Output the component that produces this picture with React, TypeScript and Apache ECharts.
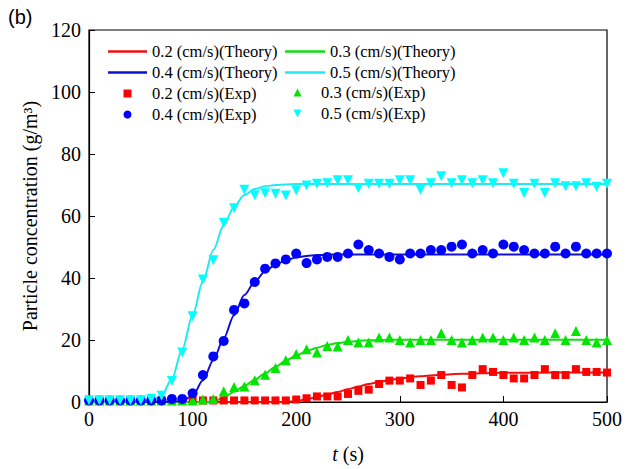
import React, { useEffect, useRef } from "react";
import * as echarts from "echarts";

// Time axis of the experimental points (s)
const T = [
  0, 10, 20, 30, 40, 50, 60, 70, 80, 90,
  100, 110, 120, 130, 140, 150, 160, 170, 180, 190,
  200, 210, 220, 230, 240, 250, 260, 270, 280, 290,
  300, 310, 320, 330, 340, 350, 360, 370, 380, 390,
  400, 410, 420, 430, 440, 450, 460, 470, 480, 490, 500,
];

// Experimental values (g/m^3)
const EXP_02 = [
  0.5, 0.5, 0.5, 0.5, 0.5, 0.5, 0.5, 0.5, 0.5, 0.5,
  0.5, 0.5, 0.5, 0.5, 0.5, 0.5, 0.5, 0.5, 0.5, 0.5,
  0.8, 1.2, 1.8, 1.8, 1.8, 2.6, 3.6, 4.0, 5.8, 6.9,
  6.9, 7.6, 5.5, 6.9, 8.7, 5.5, 4.7, 8.7, 10.6, 9.7,
  8.7, 7.6, 7.6, 8.7, 10.6, 8.7, 8.7, 10.6, 9.7, 9.7, 9.5,
];
const EXP_03 = [
  0.5, 0.5, 0.5, 0.5, 0.5, 0.5, 0.5, 0.5, 0.5, 0.5,
  0.5, 0.8, 1.0, 3.5, 4.8, 5.0, 7.0, 8.8, 11.0, 13.5,
  15.5, 17.0, 16.0, 18.1, 17.9, 20.0, 19.2, 19.2, 20.8, 20.8,
  20.0, 19.2, 20.0, 20.0, 22.2, 20.0, 19.2, 20.0, 20.8, 20.8,
  20.0, 20.8, 20.0, 20.8, 20.0, 22.2, 20.0, 22.9, 20.0, 19.2, 20.0,
];
const EXP_04 = [
  0.5, 0.5, 0.5, 0.5, 0.5, 0.5, 0.5, 0.5, 1.0, 1.0,
  2.8, 8.7, 14.7, 19.7, 29.7, 31.8, 38.7, 43.0, 44.7, 46.0,
  47.9, 44.8, 46.0, 46.8, 46.8, 47.9, 50.8, 49.0, 47.9, 46.8,
  46.0, 47.9, 47.9, 49.0, 49.0, 50.1, 50.8, 47.9, 49.0, 47.9,
  50.8, 50.1, 49.0, 47.9, 47.9, 50.1, 47.9, 50.1, 47.9, 47.9, 47.9,
];
const EXP_05 = [
  0.6, 0.6, 0.6, 0.6, 0.6, 0.6, 1.0, 2.0, 6.8, 16.0,
  27.7, 39.5, 45.7, 57.8, 62.5, 68.5, 66.7, 67.3, 67.2, 66.6,
  68.3, 69.8, 70.4, 70.6, 71.5, 71.5, 69.0, 70.4, 70.4, 70.4,
  71.5, 71.5, 68.5, 70.6, 72.8, 70.6, 71.5, 70.6, 71.5, 70.6,
  73.8, 70.4, 67.4, 70.4, 67.4, 70.6, 69.6, 69.6, 70.6, 69.4, 70.4,
];

// Theory curves
const TH_02_T = [0, 100, 190, 200, 210, 220, 230, 240, 250, 260, 270, 280, 290, 300, 320, 340, 360, 380, 400, 450, 500];
const TH_02 = [0, 0, 0, 0.3, 0.9, 1.6, 2.4, 3.2, 4.1, 5.0, 5.8, 6.5, 7.1, 7.6, 8.3, 8.8, 9.1, 9.3, 9.4, 9.5, 9.5];
const TH_03_T = [0, 60, 120, 130, 140, 150, 160, 170, 180, 190, 200, 210, 220, 230, 240, 250, 260, 270, 280, 300, 400, 500];
const TH_03 = [0, 0, 0, 1.5, 3.3, 5.2, 7.2, 9.3, 11.4, 13.3, 15.0, 16.4, 17.5, 18.4, 19.0, 19.4, 19.7, 19.9, 20.0, 20.1, 20.1, 20.1];
const TH_04_T = [0, 40, 80, 90, 100, 110, 120, 130, 140, 150, 160, 170, 180, 190, 200, 210, 220, 230, 240, 300, 400, 500];
const TH_04 = [0, 0, 0, 0.4, 2.0, 7.0, 13.5, 20.5, 28.0, 34.5, 38.8, 42.2, 44.3, 45.7, 46.6, 47.1, 47.4, 47.5, 47.6, 47.6, 47.6, 47.6];
const TH_05_T = [0, 30, 60, 70, 80, 90, 100, 110, 120, 130, 140, 150, 160, 170, 180, 190, 200, 250, 300, 400, 500];
const TH_05 = [0, 0, 0.3, 2.0, 7.5, 17.0, 28.0, 39.0, 49.0, 57.0, 63.0, 66.8, 68.7, 69.6, 70.0, 70.2, 70.3, 70.3, 70.3, 70.3, 70.3];

const NAMES_TH = ["0.2 (cm/s)(Theory)", "0.3 (cm/s)(Theory)", "0.4 (cm/s)(Theory)", "0.5 (cm/s)(Theory)"];
const NAMES_EXP = ["0.2 (cm/s)(Exp)", "0.3 (cm/s)(Exp)", "0.4 (cm/s)(Exp)", "0.5 (cm/s)(Exp)"];
const COLORS = ["#ff0000", "#00e600", "#0000ff", "#00ffff"];
const LINE_COLORS = ["#ee1111", "#11dd11", "#1111cc", "#22e8f0"];

const SERIF = "Liberation Serif";

export default function App() {
  const ref = useRef<HTMLDivElement>(null);
  useEffect(() => {
    if (!ref.current) return;
    const chart = echarts.init(ref.current, null, { renderer: "svg" });
    const thT = [TH_02_T, TH_03_T, TH_04_T, TH_05_T];
    const thV = [TH_02, TH_03, TH_04, TH_05];
    const expV = [EXP_02, EXP_03, EXP_04, EXP_05];
    const symbols = ["rect", "triangle", "circle", "triangle"];
    const sizes = [8, 10, 10, 10];
    const rotates = [0, 0, 0, 180];

    const series: any[] = [];
    for (let k = 0; k < 4; k++) {
      series.push({
        name: NAMES_TH[k],
        type: "line",
        data: thT[k].map((t, i) => [t, thV[k][i]]),
        symbol: "none",
        smooth: 0.3,
        smoothMonotone: "x",
        lineStyle: { color: LINE_COLORS[k], width: 2 },
        itemStyle: { color: LINE_COLORS[k] },
        z: 2,
      });
    }
    for (let k = 0; k < 4; k++) {
      series.push({
        name: NAMES_EXP[k],
        type: "line",
        data: T.map((t, i) => [t, expV[k][i]]),
        symbol: symbols[k],
        symbolSize: sizes[k],
        symbolRotate: rotates[k],
        showSymbol: true,
        lineStyle: { width: 0, opacity: 0 },
        itemStyle: { color: COLORS[k] },
        z: 3 + k,
      });
    }

    const thIcon = "path://M0,0H100V6H0Z";
    const legendCommon = {
      orient: "vertical",
      itemHeight: 10,
      itemGap: 4,
      textStyle: { fontFamily: SERIF, fontSize: 16.5, color: "#000" },
      selectedMode: false,
      padding: 0,
    };

    chart.setOption({
      animation: false,
      backgroundColor: "#fff",
      grid: {
        left: 89,
        right: 26,
        top: 30,
        bottom: 66,
        show: true,
        borderColor: "#000",
        borderWidth: 1.2,
      },
      legend: [
        {
          ...legendCommon,
          left: 108,
          top: 43,
          itemWidth: 39,
          data: [
            { name: NAMES_TH[0], icon: thIcon },
            { name: NAMES_TH[2], icon: thIcon },
            { name: NAMES_EXP[0] },
            { name: NAMES_EXP[2] },
          ],
        },
        {
          ...legendCommon,
          left: 285,
          top: 43,
          itemWidth: 40,
          data: [
            { name: NAMES_TH[1], icon: thIcon },
            { name: NAMES_TH[3], icon: thIcon },
          ],
        },
        {
          ...legendCommon,
          left: 279,
          top: 84,
          itemWidth: 37,
          data: [{ name: NAMES_EXP[1] }, { name: NAMES_EXP[3] }],
        },
      ],
      xAxis: {
        type: "value",
        min: 0,
        max: 500,
        interval: 100,
        name: "{i|t} (s)",
        nameLocation: "middle",
        nameGap: 42,
        nameTextStyle: {
          fontFamily: SERIF,
          fontSize: 20,
          color: "#000",
          rich: { i: { fontFamily: SERIF, fontSize: 20, fontStyle: "italic", color: "#000" } },
        },
        axisLine: { lineStyle: { color: "#000", width: 1.2 } },
        axisTick: { inside: true, length: 6, lineStyle: { color: "#000" } },
        axisLabel: { fontFamily: SERIF, fontSize: 20, color: "#000", margin: 7 },
        splitLine: { show: false },
      },
      yAxis: {
        type: "value",
        min: 0,
        max: 120,
        interval: 20,
        name: "Particle concentration (g/m³)",
        nameLocation: "middle",
        nameGap: 48,
        nameTextStyle: { fontFamily: SERIF, fontSize: 20, color: "#000" },
        axisLine: { show: true, lineStyle: { color: "#000", width: 1.2 } },
        axisTick: { show: true, inside: true, length: 6, lineStyle: { color: "#000" } },
        axisLabel: { fontFamily: SERIF, fontSize: 20, color: "#000", margin: 8 },
        splitLine: { show: false },
      },
      graphic: [
        {
          type: "text",
          left: 8,
          top: 7,
          style: { text: "(b)", font: "20px 'Liberation Sans'", fill: "#000" },
        },
      ],
      series,
    });
    return () => chart.dispose();
  }, []);
  return (
    <div
      ref={ref}
      style={{ position: "fixed", left: 0, top: 0, width: 633, height: 469, background: "#fff" }}
    />
  );
}
